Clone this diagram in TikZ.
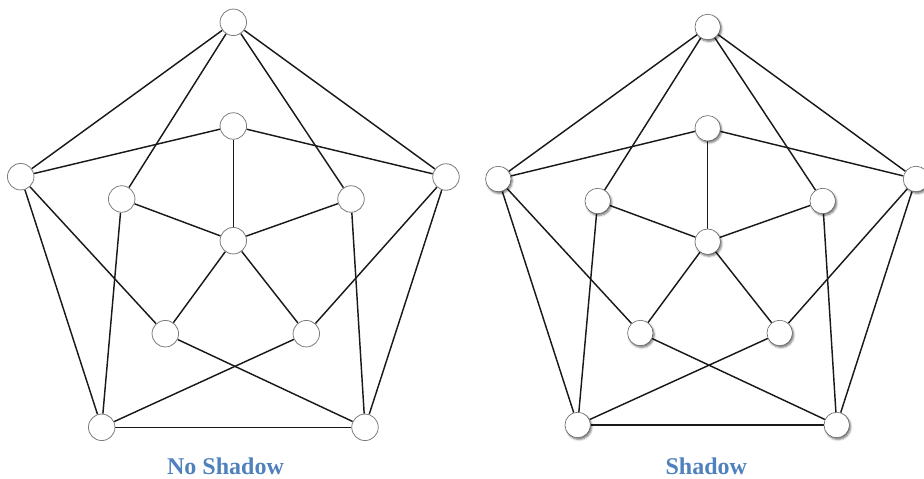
\documentclass[tikz,border=0pt]{standalone}
\usepackage{fontspec}
\newfontfamily\capfont{Liberation Serif}
\usetikzlibrary{shadows.blur,backgrounds}
\definecolor{capblue}{RGB}{79,129,189}
\definecolor{ringgray}{RGB}{125,125,125}
\begin{document}
\begin{tikzpicture}[x=1pt,y=-1pt,
  vert/.style={circle,draw=ringgray,line width=0.8pt,fill=white,minimum size=26.5pt,inner sep=0pt},
  svert/.style={circle,draw=ringgray!80!black,line width=0.6pt,fill=white,minimum size=25.5pt,inner sep=0pt,
     blur shadow={shadow xshift=1.3pt,shadow yshift=-1.8pt,shadow blur radius=2pt,shadow opacity=55}},
  edge/.style={line width=1.45pt,black!90},
  caption/.style={font=\capfont\bfseries\fontsize{24}{28}\selectfont,text=capblue,anchor=base,inner sep=0pt,text depth=0pt}]
\useasboundingbox (0,0) rectangle (924,479);
% left graph (no shadow)
\node[vert] (ao0) at (233.3,22.3) {};
\node[vert] (ao1) at (20.7,176.7) {};
\node[vert] (ao2) at (446,177) {};
\node[vert] (ao3) at (101.7,427.3) {};
\node[vert] (ao4) at (365,427.3) {};
\node[vert] (am0) at (233.3,126) {};
\node[vert] (am1) at (121.7,199) {};
\node[vert] (am2) at (351,199) {};
\node[vert] (am3) at (165.3,333.7) {};
\node[vert] (am4) at (306.3,333.7) {};
\node[vert] (ac) at (233.3,240.7) {};
% right graph (shadow)
\node[svert] (bo0) at (707.7,27) {};
\node[svert] (bo1) at (498.3,179) {};
\node[svert] (bo2) at (916,179) {};
\node[svert] (bo3) at (577.7,425) {};
\node[svert] (bo4) at (836.7,425) {};
\node[svert] (bm0) at (707.7,128.3) {};
\node[svert] (bm1) at (597.7,201) {};
\node[svert] (bm2) at (822.7,201) {};
\node[svert] (bm3) at (640.3,333) {};
\node[svert] (bm4) at (779.7,333) {};
\node[svert] (bc) at (707.7,241.7) {};
\begin{pgfonlayer}{background}
\foreach \g in {a,b}{
  \foreach \u/\v in {o0/o1,o0/o2,o0/m1,o0/m2,o1/m0,o1/o3,o1/m3,o2/m0,o2/o4,o2/m4,o3/m1,o3/m4,o3/o4,o4/m2,o4/m3,c/m0,c/m1,c/m2,c/m3,c/m4}
    \draw[edge] (\g\u) -- (\g\v);
}
\end{pgfonlayer}
\node[caption] (cap1) at (225.5,474) {No Shadow};
\node[caption] (cap2) at (706.3,474) {Shadow};
\end{tikzpicture}
\end{document}
